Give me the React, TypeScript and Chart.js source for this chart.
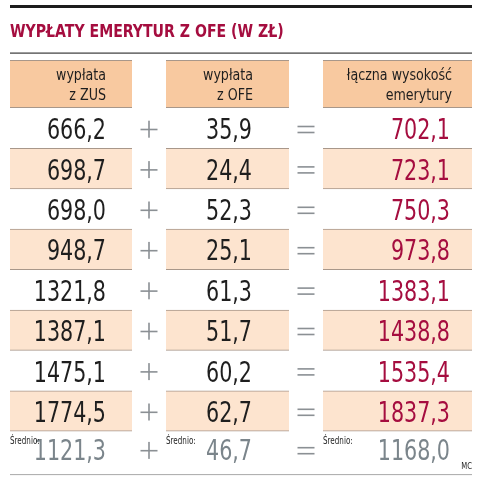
import React, { useEffect, useRef } from "react";
import { Chart, ChartConfiguration, Plugin, registerables } from "chart.js";

Chart.register(...registerables);

// data
const titleText = "WYPŁATY EMERYTUR Z OFE (W ZŁ)";
const rowLabels = ["1", "2", "3", "4", "5", "6", "7", "8", "Średnio"];
const zusValues = [666.2, 698.7, 698.0, 948.7, 1321.8, 1387.1, 1475.1, 1774.5];
const ofeValues = [35.9, 24.4, 52.3, 25.1, 61.3, 51.7, 60.2, 62.7];
const totalValues = [702.1, 723.1, 750.3, 973.8, 1383.1, 1438.8, 1535.4, 1837.3];
const averageValues = [1121.3, 46.7, 1168.0];
const headerLabels = [
  ["wypłata", "z ZUS"],
  ["wypłata", "z OFE"],
  ["łączna wysokość", "emerytury"],
];
const averageLabel = "Średnio:";
const sourceLabel = "MC";

// layout (x in table units, 0..462)
const TABLE_WIDTH = 462;
const columns = [
  { from: 0, to: 122, headerRight: 96, valueRight: 96 },
  { from: 156, to: 279, headerRight: 243, valueRight: 242 },
  { from: 313, to: 462, headerRight: 442, valueRight: 440 },
];
const operators = [
  { at: 139, kind: "plus" },
  { at: 296, kind: "equals" },
];
const HEADER_HEIGHT = 48;

const FONT = "'Liberation Sans Narrow', 'DejaVu Sans Condensed', 'Roboto', sans-serif";
const CRIMSON = "#a50d3f";
const INK = "#1e1e1e";
const AVG_GRAY = "#7b858b";
const OP_GRAY = "#8b9094";
const PEACH = "#fde4cf";
const HEADER_PEACH = "#f8c9a0";
const CELL_LINE = "#a8978a";

const fmt = (v: number) => v.toFixed(1).replace(".", ",");

// narrow text: the original uses a condensed face, so squeeze horizontally
function narrowText(
  ctx: CanvasRenderingContext2D,
  text: string,
  x: number,
  y: number,
  align: CanvasTextAlign,
  squeeze: number,
) {
  ctx.save();
  ctx.translate(x, y);
  ctx.scale(squeeze, 1);
  ctx.textAlign = align;
  ctx.textBaseline = "alphabetic";
  ctx.fillText(text, 0, 0);
  ctx.restore();
}

const tablePlugin: Plugin<"bar"> = {
  id: "tableText",
  afterDatasetsDraw(chart) {
    const { ctx, chartArea } = chart;
    const x = chart.scales.x;
    const y = chart.scales.y;
    const left = x.getPixelForValue(0);
    const right = x.getPixelForValue(TABLE_WIDTH);
    ctx.save();

    // rules and title
    ctx.fillStyle = "#1c1c1c";
    ctx.fillRect(left, 5, right - left, 3);
    ctx.fillStyle = CRIMSON;
    ctx.font = `bold 18px ${FONT}`;
    narrowText(ctx, titleText, left, 37, "left", 0.87);
    ctx.fillStyle = "#3a3a3a";
    ctx.fillRect(left, 52.5, right - left, 1.2);
    ctx.fillStyle = "#a9a9a9";
    ctx.fillRect(left, chartArea.bottom + 2.5, right - left, 1);

    // header cells
    const hTop = chartArea.top - HEADER_HEIGHT;
    columns.forEach((c, i) => {
      const x0 = x.getPixelForValue(c.from);
      const x1 = x.getPixelForValue(c.to);
      ctx.fillStyle = HEADER_PEACH;
      ctx.fillRect(x0, hTop, x1 - x0, HEADER_HEIGHT);
      ctx.fillStyle = CELL_LINE;
      ctx.fillRect(x0, hTop, x1 - x0, 1);
      ctx.fillRect(x0, chartArea.top - 1, x1 - x0, 1);
      ctx.fillStyle = INK;
      ctx.font = `16px ${FONT}`;
      const xr = x.getPixelForValue(c.headerRight);
      narrowText(ctx, headerLabels[i][0], xr, hTop + 20, "right", 0.88);
      narrowText(ctx, headerLabels[i][1], xr, hTop + 40, "right", 0.88);
    });

    // values
    const rows = zusValues.map((_, i) => [zusValues[i], ofeValues[i], totalValues[i]]);
    rows.push(averageValues);
    rows.forEach((vals, r) => {
      const isAvg = r === rows.length - 1;
      const cy = y.getPixelForValue(r) - (isAvg ? 2 : 0);
      vals.forEach((v, ci) => {
        ctx.font = `28px ${FONT}`;
        ctx.fillStyle = isAvg ? AVG_GRAY : ci === 2 ? CRIMSON : INK;
        narrowText(ctx, fmt(v), x.getPixelForValue(columns[ci].valueRight), cy + 11, "right", 0.82);
        if (isAvg) {
          ctx.font = `10px ${FONT}`;
          ctx.fillStyle = INK;
          narrowText(ctx, averageLabel, x.getPixelForValue(columns[ci].from), cy - 5, "left", 0.8);
        }
      });
      operators.forEach((op) => {
        const ox = x.getPixelForValue(op.at);
        ctx.fillStyle = OP_GRAY;
        if (op.kind === "plus") {
          ctx.fillRect(ox - 8.5, cy + 0.5, 17, 1.6);
          ctx.fillRect(ox - 0.8, cy - 7.5, 1.6, 17);
        } else {
          ctx.fillRect(ox - 8.5, cy - 2.5, 17, 1.6);
          ctx.fillRect(ox - 8.5, cy + 3.5, 17, 1.6);
        }
      });
    });

    ctx.font = `9px ${FONT}`;
    ctx.fillStyle = INK;
    narrowText(ctx, sourceLabel, right, chartArea.bottom - 2.5, "right", 0.85);
    ctx.restore();
  },
};

const App: React.FC = () => {
  const canvasRef = useRef<HTMLCanvasElement | null>(null);

  useEffect(() => {
    if (!canvasRef.current) return;
    const ctx = canvasRef.current.getContext("2d");
    if (!ctx) return;

    const stripe = (c: { from: number; to: number }) =>
      rowLabels.map((_, i) => (i % 2 === 1 && i < zusValues.length ? [c.from, c.to] : null));

    const config: ChartConfiguration<"bar"> = {
      type: "bar",
      data: {
        labels: rowLabels,
        datasets: columns.map((c) => ({
          data: stripe(c) as any,
          backgroundColor: PEACH,
          borderColor: CELL_LINE,
          borderWidth: { top: 1, bottom: 1, left: 0, right: 0 },
          borderSkipped: false,
          grouped: false,
          barPercentage: 1,
          categoryPercentage: 1,
        })),
      },
      options: {
        indexAxis: "y",
        responsive: false,
        animation: false,
        events: [],
        layout: { padding: { left: 10, right: 17, top: 108, bottom: 9.4 } },
        plugins: {
          legend: { display: false },
          tooltip: { enabled: false },
          title: { display: false },
        },
        scales: {
          x: { type: "linear", min: 0, max: TABLE_WIDTH, display: false },
          y: { type: "category", display: false, offset: true },
        },
      },
      plugins: [tablePlugin],
    };

    const chart = new Chart(ctx, config);
    return () => {
      chart.destroy();
    };
  }, []);

  return (
    <div style={{ position: "absolute", left: 0, top: 0, width: 489, height: 481, background: "#fff" }}>
      <canvas ref={canvasRef} width={489} height={481} style={{ width: 489, height: 481 }} />
    </div>
  );
};

export default App;
